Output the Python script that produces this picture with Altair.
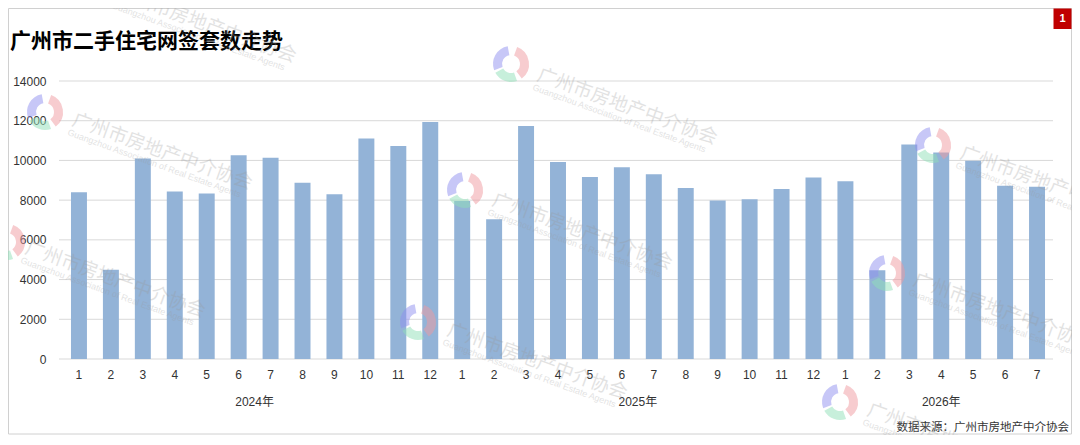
import altair as alt
import pandas as pd

# ---- data ----
years = ["2024年", "2025年", "2026年"]
months_2024 = [1, 2, 3, 4, 5, 6, 7, 8, 9, 10, 11, 12]
months_2025 = [1, 2, 3, 4, 5, 6, 7, 8, 9, 10, 11, 12]
months_2026 = [1, 2, 3, 4, 5, 6, 7]
values_2024 = [8400, 4500, 10100, 8430, 8330, 10260, 10130, 8870, 8300, 11100, 10730, 11940]
values_2025 = [7960, 7040, 11740, 9920, 9170, 9660, 9300, 8610, 7980, 8040, 8560, 9140]
values_2026 = [8950, 4470, 10800, 10400, 9990, 8720, 8670]
y_ticks = [0, 2000, 4000, 6000, 8000, 10000, 12000, 14000]

title_text = "广州市二手住宅网签套数走势"
source_text = "数据来源：广州市房地产中介协会"
wm_cn = "广州市房地产中介协会"
wm_en = "Guangzhou Association of Real Estate Agents"

# watermark layout (decoration, page pixel anchors)
wm_x = [538, 73, 26, 493, 448, 961, 914, 868, 117]
wm_y = [74, 119, 247, 199, 329, 152, 279, 409, -8]
logo_x = [511, 45, 7, 465, 418, 933, 887, 840]
logo_y = [64, 112, 242, 190, 322, 145, 273, 402]

# ---- build tables ----
rows = []
groups = [(years[0], months_2024, values_2024),
          (years[1], months_2025, values_2025),
          (years[2], months_2026, values_2026)]
year_rows = []
start = 0
for yr, ms, vs in groups:
    for m, v in zip(ms, vs):
        rows.append({"key": f"{yr}-{m}", "year": yr, "month": m, "value": v})
    year_rows.append({"year": yr, "mid": start + len(ms) / 2})
    start += len(ms)
df = pd.DataFrame(rows)
keys = list(df["key"])
n = len(keys)
df_years = pd.DataFrame(year_rows)
df_ticks = pd.DataFrame({"tick": y_ticks})
one = pd.DataFrame({"a": [0]})

OX, OY = 63, 81  # plot origin on the page
df_wm = pd.DataFrame({"px": [x - OX for x in wm_x], "py": [y - OY for y in wm_y]})
df_wm["ex"] = df_wm["px"] - 5
df_wm["ey"] = df_wm["py"] + 13
df_logo = pd.DataFrame({"px": [x - OX for x in logo_x], "py": [y - OY for y in logo_y]})

W, H = 990, 278
NUM_FONT = "'Liberation Sans', 'Noto Sans CJK SC'"
CJK_FONT = "'Noto Sans CJK SC'"
TXT = "#333333"
YSCALE = alt.Scale(domain=[0, 14000], nice=False)

grid = alt.Chart(df_ticks).mark_rule(color="#d9d9d9", strokeWidth=1).encode(
    y=alt.Y("tick:Q", scale=YSCALE, axis=None),
    x=alt.value(-4),
    x2=alt.value(W),
)

bars = alt.Chart(df).mark_bar(color="#93b3d7").encode(
    x=alt.X(
        "key:N",
        sort=keys,
        scale=alt.Scale(paddingInner=0.5, paddingOuter=0.25),
        axis=alt.Axis(
            title=None,
            orient="bottom",
            labelExpr="split(datum.value, '-')[1]",
            labelAngle=0,
            ticks=False,
            tickSize=0,
            domain=False,
            labelPadding=10,
            labelFontSize=12,
            labelFont=NUM_FONT,
            labelColor=TXT,
        ),
    ),
    y=alt.Y(
        "value:Q",
        scale=YSCALE,
        axis=alt.Axis(
            title=None,
            orient="left",
            values=y_ticks,
            format="d",
            labelOverlap=False,
            grid=False,
            domain=False,
            ticks=False,
            tickSize=0,
            labelPadding=17,
            labelFontSize=12,
            labelFont=NUM_FONT,
            labelColor=TXT,
        ),
    ),
)

year_text = alt.Chart(df_years).mark_text(
    fontSize=12, font=NUM_FONT, color=TXT, baseline="middle", align="center"
).encode(
    x=alt.X("mid:Q", scale=alt.Scale(domain=[0, n], nice=False, zero=False), axis=None),
    y=alt.value(H + 43),
    text="year:N",
)

title = alt.Chart(one).mark_text(
    text=title_text, fontSize=21, font=CJK_FONT, fontWeight="bold",
    color="#000000", align="left", baseline="middle",
).encode(x=alt.value(-53), y=alt.value(-39.5))

source = alt.Chart(one).mark_text(
    text=source_text, fontSize=11.5, font=CJK_FONT, color=TXT,
    align="right", baseline="middle",
).encode(x=alt.value(1006), y=alt.value(347))

frame = alt.Chart(one).mark_rect(
    fillOpacity=0, stroke="#d0d0d0", strokeWidth=1
).encode(x=alt.value(-54.5), x2=alt.value(1008.5), y=alt.value(-72.5), y2=alt.value(353))

badge = alt.Chart(one).mark_rect(color="#c00000").encode(
    x=alt.value(990.5), x2=alt.value(1008.5), y=alt.value(-72.5), y2=alt.value(-52)
)
badge_text = alt.Chart(one).mark_text(
    text="1", fontSize=11, font=NUM_FONT, fontWeight="bold", color="white",
    align="center", baseline="middle",
).encode(x=alt.value(999.5), y=alt.value(-62))

wm_text_cn = alt.Chart(df_wm).mark_text(
    text=wm_cn, fontSize=19, font=CJK_FONT, color="#9a9a9a", opacity=0.28,
    angle=20, align="left", baseline="middle",
).encode(x=alt.X("px:Q", scale=None, axis=None), y=alt.Y("py:Q", scale=None, axis=None))

wm_text_en = alt.Chart(df_wm).mark_text(
    text=wm_en, fontSize=9, font=NUM_FONT, color="#9a9a9a", opacity=0.28,
    angle=20, align="left", baseline="middle",
).encode(x=alt.X("ex:Q", scale=None, axis=None), y=alt.Y("ey:Q", scale=None, axis=None))


def petal(t0, t1, color):
    return alt.Chart(df_logo).mark_arc(
        theta=t0, theta2=t1, radius=18, radius2=9, color=color, opacity=0.5
    ).encode(x=alt.X("px:Q", scale=None, axis=None), y=alt.Y("py:Q", scale=None, axis=None))


logo_blue = petal(4.36, 6.1, "#8f8ff0")
logo_red = petal(0.35, 2.5, "#ef9aa0")
logo_green = petal(2.8, 4.2, "#8fdfb8")

chart = alt.layer(
    frame, grid, bars, year_text, title, source,
    wm_text_cn, wm_text_en, logo_blue, logo_red, logo_green,
    badge, badge_text
).resolve_scale(x="independent", y="independent").properties(
    width=W,
    height=H,
    padding={"left": 55, "top": 73, "right": 19, "bottom": 76},
    autosize=alt.AutoSizeParams(type="none"),
    background="white",
).configure_view(stroke=None)

chart.save("out.html", embed_options={"renderer": "svg", "actions": False})
